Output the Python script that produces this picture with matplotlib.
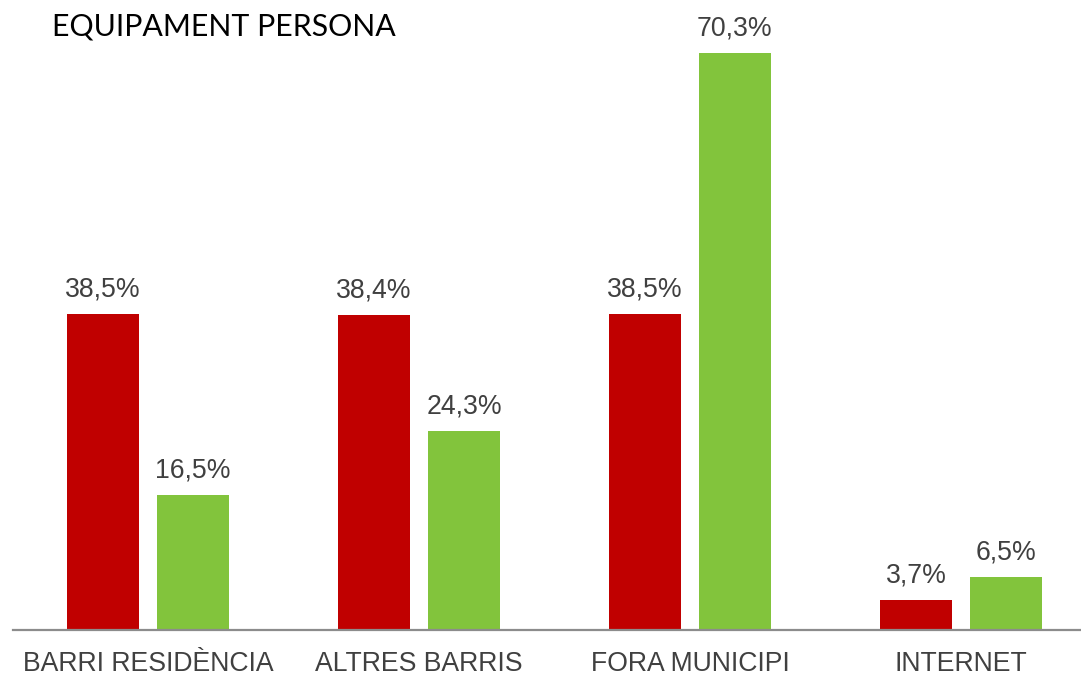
import matplotlib
matplotlib.use("Agg")
import matplotlib.pyplot as plt
import numpy as np

categories = ["BARRI RESIDÈNCIA", "ALTRES BARRIS", "FORA MUNICIPI", "INTERNET"]
serie_a = [38.5, 38.4, 38.5, 3.7]
serie_b = [16.5, 24.3, 70.3, 6.5]
labels_a = ["38,5%", "38,4%", "38,5%", "3,7%"]
labels_b = ["16,5%", "24,3%", "70,3%", "6,5%"]

fig = plt.figure(figsize=(10.81, 6.77), dpi=100)
ax = fig.add_axes([13/1081, 1 - 630/677, 1 - 13/1081, 630/677])
x = np.arange(len(categories))
w = 0.266
off = 0.166
ba = ax.bar(x - off, serie_a, w, color="#C00000")
bb = ax.bar(x + off, serie_b, w, color="#82C43C")
txtc = "#404040"
for bars, labs in ((ba, labels_a), (bb, labels_b)):
    for b, l in zip(bars, labs):
        ax.annotate(l, (b.get_x() + b.get_width()/2, b.get_height()), xytext=(0, 8),
                    textcoords="offset points", ha="center", va="bottom",
                    fontsize=19.2, color=txtc, family="Liberation Sans")
ax.set_xlim(-0.498, 3.443)
ax.set_ylim(0, 76.75)
ax.set_yticks([])
ax.set_xticks(x)
ax.set_xticklabels(categories, fontsize=19.2, color=txtc, family="Liberation Sans")
ax.tick_params(axis="x", length=0, pad=15)
for s in ("top", "right", "left"):
    ax.spines[s].set_visible(False)
ax.spines["bottom"].set_color("#8C8C8C")
ax.spines["bottom"].set_linewidth(1.6)
fig.text(52/1081, 1 - 27/677, "EQUIPAMENT PERSONA", fontsize=21.8, color="black",
         family="Lato", va="center", ha="left")
fig.savefig("out.png", dpi=100)
